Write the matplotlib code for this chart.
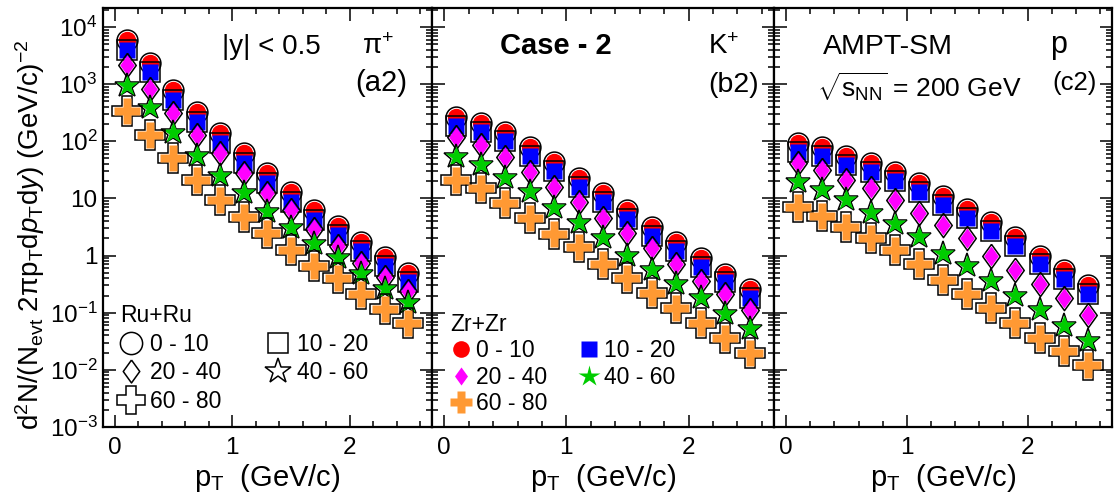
import numpy as np
import matplotlib
matplotlib.use('Agg')
import matplotlib.pyplot as plt
from matplotlib.lines import Line2D
from matplotlib.ticker import FixedLocator, MultipleLocator, LogLocator, FuncFormatter, NullFormatter

plt.rcParams['font.family'] = ['Liberation Sans', 'DejaVu Sans']
plt.rcParams['mathtext.fontset'] = 'custom'
plt.rcParams['mathtext.rm'] = 'Liberation Sans'
plt.rcParams['mathtext.it'] = 'Liberation Sans:italic'
plt.rcParams['mathtext.bf'] = 'Liberation Sans:bold'

#### data ####
pt = [0.1, 0.3, 0.5, 0.7, 0.9, 1.1, 1.3, 1.5, 1.7, 1.9, 2.1, 2.3, 2.5]
centralities = ['0 - 10', '10 - 20', '20 - 40', '40 - 60', '60 - 80']

# pi+  (Ru+Ru and Zr+Zr coincide within the marker size)
pion_0_10  = [5900, 2350, 780, 325, 138, 62, 27.5, 12.7, 6.2, 3.3, 1.75, 0.95, 0.5]
pion_10_20 = [4000, 1600, 530, 220, 94, 42, 18.7, 8.6, 4.2, 2.25, 1.2, 0.65, 0.34]
pion_20_40 = [2150, 810, 310, 129, 62, 27.5, 12.3, 6.2, 2.95, 1.5, 0.75, 0.42, 0.24]
pion_40_60 = [920, 380, 138, 56, 25, 12.3, 5.9, 3.0, 1.6, 0.9, 0.48, 0.26, 0.145]
pion_60_80 = [345, 127, 50, 21, 9.2, 4.7, 2.45, 1.25, 0.67, 0.4, 0.215, 0.117, 0.065]

# K+
kaon_0_10  = [263, 210, 145, 79, 43, 23, 12.3, 6.2, 3.1, 1.7, 0.92, 0.48, 0.26]
kaon_10_20 = [185, 147, 100, 55, 30, 16, 8.6, 4.3, 2.2, 1.2, 0.64, 0.34, 0.18]
kaon_20_40 = [118, 85, 53, 29, 15.6, 8.6, 4.5, 2.5, 1.38, 0.72, 0.36, 0.21, 0.11]
kaon_40_60 = [53, 38, 22.6, 13, 6.7, 3.7, 2.0, 1.0, 0.55, 0.32, 0.18, 0.095, 0.052]
kaon_60_80 = [21, 15, 8.2, 4.5, 2.4, 1.4, 0.72, 0.40, 0.22, 0.12, 0.066, 0.036, 0.020]

# p
prot_0_10  = [95, 79, 56, 41, 29, 18.4, 11.2, 6.6, 3.8, 2.1, 1.0, 0.55, 0.30]
prot_10_20 = [66, 55, 39, 29, 20, 13, 7.8, 4.6, 2.7, 1.5, 0.7, 0.39, 0.21]
prot_20_40 = [41, 31, 21, 15, 9.2, 5.5, 3.4, 2.0, 1.0, 0.55, 0.32, 0.18, 0.09]
prot_40_60 = [19, 14, 9.2, 5.6, 3.6, 2.1, 1.07, 0.67, 0.36, 0.2, 0.11, 0.059, 0.032]
prot_60_80 = [7, 5, 3.1, 2.0, 1.26, 0.7, 0.38, 0.21, 0.12, 0.066, 0.036, 0.021, 0.012]

pion = [pion_0_10, pion_10_20, pion_20_40, pion_40_60, pion_60_80]
kaon = [kaon_0_10, kaon_10_20, kaon_20_40, kaon_40_60, kaon_60_80]
prot = [prot_0_10, prot_10_20, prot_20_40, prot_40_60, prot_60_80]

#### styles ####
diamond = [(0, 1), (0.72, 0), (0, -1), (-0.72, 0), (0, 1)]
markers = ['o', 's', diamond, '*', 'P']
colors = ['#ff0000', '#0000ff', '#ff00ff', '#00cc00', '#ff9933']
ms_open = [15, 15, 17.5, 18.5, 21]
ms_fill = [12.5, 11, 14.5, 16.5, 18.5]
ms_leg_open = [16, 14.5, 16.5, 19, 20]
ms_leg_fill = [12, 11, 13, 16, 16]

W, H = 1114, 499
fig = plt.figure(figsize=(W/100, H/100), dpi=100)

def rect(x0, x1, top=8, bot=427):
	return [x0/W, 1-bot/H, (x1-x0)/W, (bot-top)/H]

def ylab(v, pos):
	e = int(round(np.log10(v)))
	if e == 0:
		return '1'
	if e == 1:
		return '10'
	return r'$10^{%d}$' % e

rects = [rect(103, 432), rect(432, 774), rect(774, 1112)]
axes = []
for i, (r, spec) in enumerate(zip(rects, [pion, kaon, prot])):
	ax = fig.add_axes(r)
	for j in range(5):
		# Ru+Ru open, Zr+Zr filled on top
		ax.plot(pt, spec[j], ls='none', marker=markers[j], ms=ms_open[j], mfc='none',
				mec='k', mew=1.1, zorder=2*j+2)
		ax.plot(pt, spec[j], ls='none', marker=markers[j], ms=ms_fill[j], mfc=colors[j],
				mec='none', zorder=2*j+3)
	ax.set_yscale('log')
	ax.set_xlim(-0.1, 2.7)
	ax.set_ylim(1e-3, 2.15e4)
	ax.xaxis.set_major_locator(FixedLocator([0, 1, 2]))
	ax.xaxis.set_minor_locator(MultipleLocator(0.2))
	ax.yaxis.set_major_locator(LogLocator(base=10, numticks=20))
	ax.yaxis.set_minor_locator(LogLocator(base=10, subs=np.arange(2, 10), numticks=20))
	ax.yaxis.set_minor_formatter(NullFormatter())
	if i == 0:
		ax.yaxis.set_major_formatter(FuncFormatter(ylab))
	else:
		ax.yaxis.set_major_formatter(NullFormatter())
	ax.tick_params(which='both', direction='in', top=True, right=True, width=1.1, labelsize=17.5)
	ax.tick_params(which='major', length=9)
	ax.tick_params(which='minor', length=4.5)
	ax.tick_params(axis='x', pad=7)
	ax.tick_params(axis='y', pad=4)
	for s in ax.spines.values():
		s.set_linewidth(1.6)
	ax.set_xlabel(r'p$_{\rm T}$  (GeV/c)', fontsize=21, labelpad=2)
	axes.append(ax)

def ft(px, py, s, **kw):
	fig.text(px/W, 1-py/H, s, **kw)

# annotations
ft(222, 47, '|y| < 0.5', fontsize=20, va='center')
ft(362, 47, r'π$^{+}$', fontsize=20, va='center')
ft(355, 83, '(a2)', fontsize=21, va='center')
ft(500, 46, 'Case - 2', fontsize=21, fontweight='bold', va='center')
ft(708, 47, r'K$^{+}$', fontsize=20, va='center')
ft(708, 85, '(b2)', fontsize=20.5, va='center')
ft(823, 47, 'AMPT-SM', fontsize=20.5, va='center')
ft(817, 87, r'$\sqrt{\mathrm{s}_{\rm NN}}$ = 200 GeV', fontsize=19, va='center')
ft(1050, 45, 'p', fontsize=22, va='center')
ft(1052, 83, '(c2)', fontsize=18.5, va='center')

ft(30, 235, r'd$^{2}$N/(N$_{\rm evt}$ 2πp$_{\rm T}$d$p_{\rm T}$d$y$) (GeV/c)$^{-2}$',
   fontsize=20, rotation=90, ha='center', va='center')

# legends
ru = [Line2D([], [], ls='none', marker=markers[j], ms=ms_leg_open[j], mfc='none', mec='k', mew=1.1)
	  for j in range(5)]
zr = [Line2D([], [], ls='none', marker=markers[j], ms=ms_leg_fill[j], mfc=colors[j], mec='none')
	  for j in range(5)]
order = [0, 2, 4, 1, 3]
leg = axes[0].legend([ru[k] for k in order], [centralities[k] for k in order], ncol=2,
					 title='Ru+Ru', title_fontsize=16.5, fontsize=16.5, frameon=False,
					 loc='upper left', bbox_to_anchor=((120-103)/329, (427-304)/419),
					 borderpad=0, borderaxespad=0, handlelength=1.0, handletextpad=0.3,
					 labelspacing=0.25, columnspacing=2.0, alignment='left')
leg = axes[1].legend([zr[k] for k in order], [centralities[k] for k in order], ncol=2,
					 title='Zr+Zr', title_fontsize=16.5, fontsize=16.5, frameon=False,
					 loc='upper left', bbox_to_anchor=((450-432)/342, (427-313)/419),
					 borderpad=0, borderaxespad=0, handlelength=1.0, handletextpad=0.15,
					 labelspacing=0.15, columnspacing=1.3, alignment='left')

plt.savefig('out.png', dpi=100)
